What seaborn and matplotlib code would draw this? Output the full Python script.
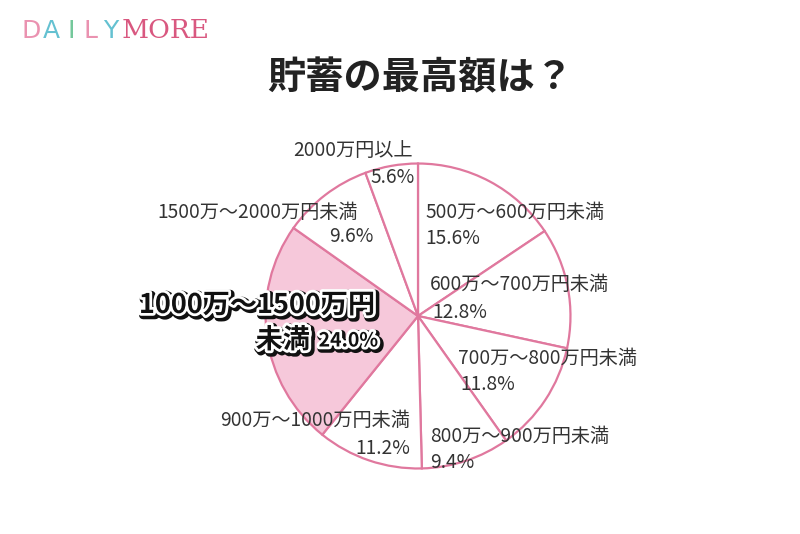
import matplotlib
matplotlib.use("Agg")
import matplotlib.pyplot as plt
import matplotlib.patheffects as pe
import seaborn as sns

# 貯蓄の最高額（時計回り、12時方向から）
labels = ["500万～600万円未満", "600万～700万円未満", "700万～800万円未満",
          "800万～900万円未満", "900万～1000万円未満", "1000万～1500万円未満",
          "1500万～2000万円未満", "2000万円以上"]
shares = [15.6, 12.8, 11.8, 9.4, 11.2, 24.0, 9.6, 5.6]
highlight = "1000万～1500万円未満"

sns.set_theme(style="white")
plt.rcParams['font.family'] = ['Noto Sans CJK JP', 'DejaVu Sans']

edge = "#e0789e"
fill_hi = "#f6c8da"
colors = [fill_hi if l == highlight else "white" for l in labels]

fig = plt.figure(figsize=(8, 5.34), dpi=100)
ax = fig.add_axes([264 / 800, 64 / 534, 308 / 800, 308 / 534])
ax.pie(shares, colors=colors, startangle=90, counterclock=False,
       wedgeprops=dict(edgecolor=edge, linewidth=1.6))
ax.set_xlim(-1.01, 1.01)
ax.set_ylim(-1.01, 1.01)
ax.set_aspect("equal")


def px(x, y):
    return x / 800, 1 - y / 534


# タイトル
fig.text(*px(420, 78), "貯蓄の最高額は？", ha="center", va="center",
         fontsize=27.5, fontweight="bold", color="#222222")

# ロゴ
logo_cols = ["#e77fa3", "#49b6c9", "#5cbf8a", "#e77fa3", "#49b6c9"]
for i, (ch, c) in enumerate(zip("DAILY", logo_cols)):
    fig.text(*px(31 + i * 20, 31), ch, ha="center", va="center", fontsize=18,
             color=c, family=["DejaVu Sans"], alpha=0.85)
fig.text(*px(122, 31), "MORE", ha="left", va="center", fontsize=19,
         color="#d95880", family=["DejaVu Serif"])

fs = 13.8
tc = "#333333"
# ラベル配置（ピクセル座標）
pos = {
    "500万～600万円未満": (425, 212, 425, 238, "left"),
    "600万～700万円未満": (430, 285, 432, 312, "left"),
    "700万～800万円未満": (458, 358, 460, 385, "left"),
    "800万～900万円未満": (430, 437, 430, 462, "left"),
    "900万～1000万円未満": (410, 420, 410, 448, "right"),
    "1500万～2000万円未満": (358, 212, 373, 237, "right"),
    "2000万円以上": (413, 150, 415, 178, "right"),
}
for lab, val in zip(labels, shares):
    if lab == highlight:
        continue
    x1, y1, x2, y2, ha = pos[lab]
    fig.text(*px(x1, y1), lab, ha=ha, va="center", fontsize=fs, color=tc)
    fig.text(*px(x2, y2), f"{val:.1f}%", ha=ha, va="center", fontsize=fs, color=tc)

effects = [pe.Stroke(linewidth=6, foreground="#111111", offset=(1.5, -1.5)),
           pe.Stroke(linewidth=4, foreground="white"), pe.Normal()]
hv = shares[labels.index(highlight)]
fig.text(*px(376, 305), "1000万～1500万円", ha="right", va="center",
         fontsize=19.5, fontweight="bold", color="#111111", path_effects=effects)
fig.text(*px(310, 340), "未満", ha="right", va="center",
         fontsize=19.5, fontweight="bold", color="#111111", path_effects=effects)
fig.text(*px(378, 341), f"{hv:.1f}%", ha="right", va="center",
         fontsize=14, fontweight="bold", color="#111111", path_effects=effects)

fig.savefig("out.png", dpi=100, facecolor="white")
